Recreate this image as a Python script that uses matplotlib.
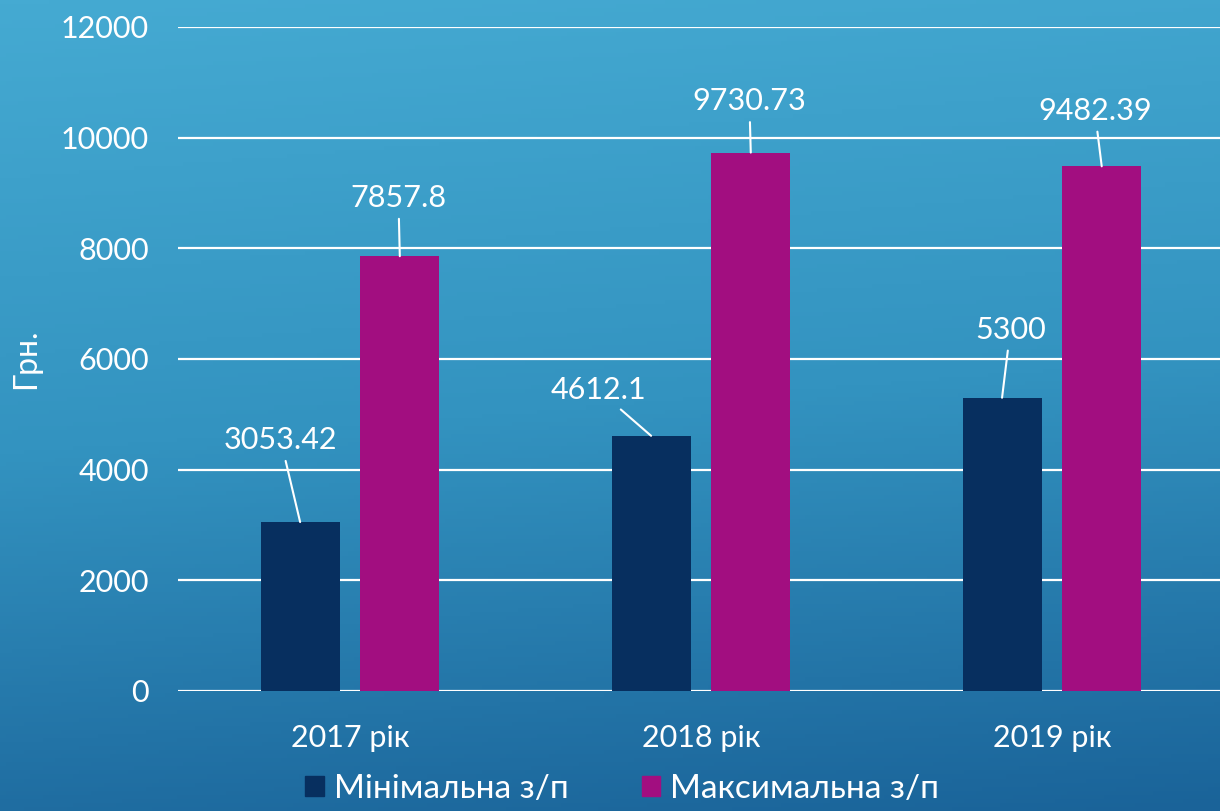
import numpy as np
import matplotlib.pyplot as plt
from matplotlib.colors import LinearSegmentedColormap
from matplotlib.patches import Patch

plt.rcParams['font.family'] = ['Lato', 'DejaVu Sans']

years = ['2017 рік', '2018 рік', '2019 рік']
min_zp = [3053.42, 4612.1, 5300]
max_zp = [7857.8, 9730.73, 9482.39]
min_lbl = ['3053.42', '4612.1', '5300']
max_lbl = ['7857.8', '9730.73', '9482.39']
series_names = ['Мінімальна з/п', 'Максимальна з/п']

navy = '#072f5f'
magenta = '#a20e80'

fig = plt.figure(figsize=(12.2, 8.11), dpi=100)

# фон з градієнтом
bg = fig.add_axes([0, 0, 1, 1])
cmap = LinearSegmentedColormap.from_list('bg', ['#45aad2', '#3393c0', '#1a6399'])
yy, xx = np.mgrid[0:1:200j, 0:1:200j]
bg.imshow(yy + 0.12 * xx, cmap=cmap, aspect='auto', extent=[0, 1, 1, 0])
bg.axis('off')

ax = fig.add_axes([178 / 1220, 1 - 691 / 811, 1 - 178 / 1220, (691 - 27) / 811])
ax.patch.set_alpha(0)

x = np.arange(len(years))
w = 0.225
ax.bar(x - 0.142, min_zp, w, color=navy, zorder=3)
ax.bar(x + 0.142, max_zp, w, color=magenta, zorder=3)

ax.set_xlim(-0.49, 2.479)
ax.set_ylim(0, 12000)
ax.set_yticks(range(0, 12001, 2000))
ax.yaxis.grid(True, color='white', lw=1.6)
ax.set_axisbelow(True)
for s in ax.spines.values():
    s.set_visible(False)
ax.tick_params(length=0, colors='white', labelsize=22)
ax.tick_params(axis='y', pad=21)
ax.tick_params(axis='x', pad=24)
ax.set_xticks(x)
ax.set_xticklabels(years)
ax.set_ylabel('Грн.', color='white', fontsize=23, labelpad=14)

# підписи з виносними лініями
offs_min = [(-14, 59), (-38, 33), (6, 49)]
offs_max = [(-1, 42), (-1, 37), (-5, 40)]
for i in range(len(years)):
    ax.annotate(min_lbl[i], (x[i] - 0.142, min_zp[i]), xytext=offs_min[i],
                textcoords='offset points', ha='center', va='center',
                color='white', fontsize=22,
                arrowprops=dict(arrowstyle='-', color='white', lw=1.5, shrinkA=3, shrinkB=0))
    ax.annotate(max_lbl[i], (x[i] + 0.142, max_zp[i]), xytext=offs_max[i],
                textcoords='offset points', ha='center', va='center',
                color='white', fontsize=22,
                arrowprops=dict(arrowstyle='-', color='white', lw=1.5, shrinkA=3, shrinkB=0))

handles = [Patch(color=navy), Patch(color=magenta)]
fig.legend(handles, series_names, loc='lower center', bbox_to_anchor=(0.51, -0.028),
           ncol=2, frameon=False, fontsize=24, labelcolor='white',
           handlelength=0.55, handleheight=0.55, handletextpad=0.3, columnspacing=2.2)

fig.savefig('out.png', dpi=100)
